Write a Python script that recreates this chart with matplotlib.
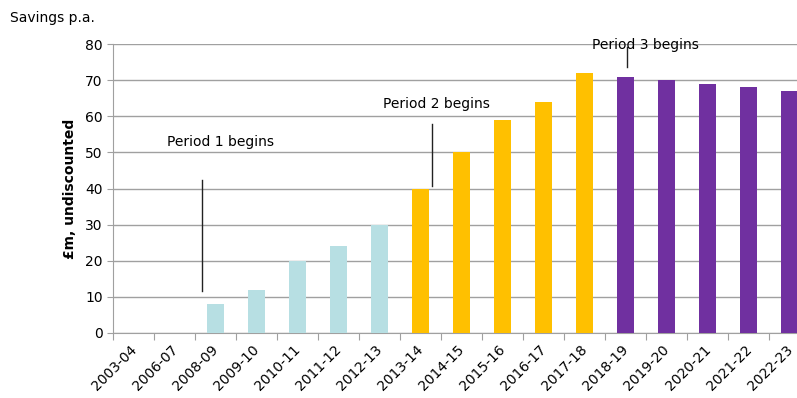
import matplotlib.pyplot as plt
import numpy as np

years = ['2003-04', '2006-07', '2008-09', '2009-10', '2010-11', '2011-12',
         '2012-13', '2013-14', '2014-15', '2015-16', '2016-17', '2017-18',
         '2018-19', '2019-20', '2020-21', '2021-22', '2022-23']
savings = [0, 0, 8, 12, 20, 24, 30, 40, 50, 59, 64, 72, 71, 70, 69, 68, 67]
period = [0, 0, 1, 1, 1, 1, 1, 2, 2, 2, 2, 2, 3, 3, 3, 3, 3]

period_colors = {0: '#ffffff', 1: '#b7dfe3', 2: '#ffc000', 3: '#7030a0'}

# annotation: (label, x of line, line bottom, line top, text x, text y)
notes = [
    ('Period 1 begins', 1.67, 11.6, 42.4, 0.82, 52.9),
    ('Period 2 begins', 7.28, 40.7, 57.9, 6.09, 63.4),
    ('Period 3 begins', 12.04, 73.7, 79.2, 11.18, 79.8),
]

fig = plt.figure(figsize=(7.97, 3.98), dpi=100)
ax = fig.add_axes([113 / 797, 65 / 398, 697 / 797, 289 / 398])

x = np.arange(len(years))
colors = [period_colors[p] for p in period]
ax.bar(x, savings, width=0.4, color=colors, zorder=3)

ax.set_xlim(-0.5, len(years) - 0.5)
ax.set_ylim(0, 80)
ax.set_yticks(range(0, 81, 10))
ax.yaxis.grid(True, color='#a0a0a0', linewidth=1)
ax.set_axisbelow(True)

# ticks at the boundaries, labels in the middle
ax.set_xticks(np.arange(len(years) + 1) - 0.5)
ax.set_xticklabels([])
ax.set_xticks(x - 0.1, minor=True)
ax.set_xticklabels(years, minor=True, rotation=45, ha='right',
                   rotation_mode='anchor', fontsize=10)
ax.tick_params(axis='x', which='minor', length=0, pad=7)
ax.tick_params(axis='x', which='major', length=5, color='#a0a0a0')
ax.tick_params(axis='y', length=4, color='#a0a0a0', labelsize=10)

for side in ['top', 'right']:
    ax.spines[side].set_visible(False)
for side in ['left', 'bottom']:
    ax.spines[side].set_color('#a0a0a0')

ax.set_ylabel('£m, undiscounted', fontweight='bold', fontsize=10, labelpad=6)

for label, lx, y0, y1, tx, ty in notes:
    ax.plot([lx, lx], [y0, y1], color='#222222', linewidth=1, zorder=4)
    ax.text(tx, ty, label, fontsize=10, va='center', ha='left', zorder=5)

fig.text(10 / 797, 1 - 18 / 398, 'Savings p.a.', fontsize=10, va='center')

fig.savefig('out.png', dpi=100)
